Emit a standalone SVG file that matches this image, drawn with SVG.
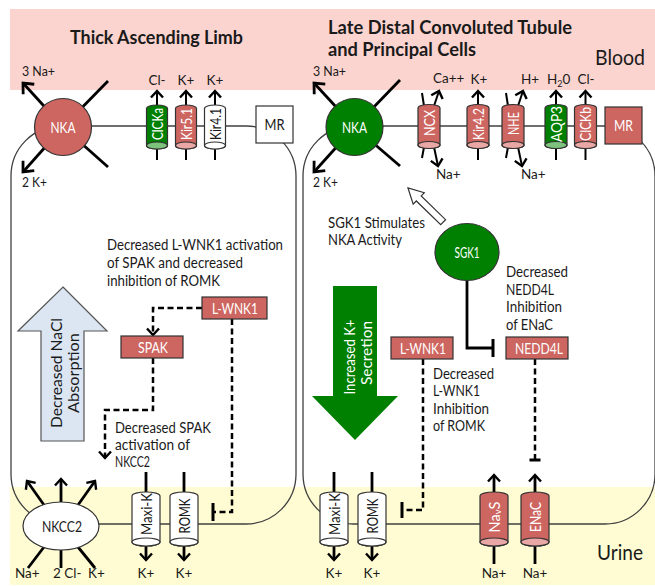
<svg xmlns="http://www.w3.org/2000/svg" width="655" height="586" viewBox="0 0 655 586">
<defs>
<style>
text{font-family:Lato,"Liberation Sans",sans-serif;font-size:14.5px;fill:#1a1a1a}
.t13{font-size:13.5px}
.ttl{font-size:19px;font-weight:bold}
.big{font-size:21px}
.wt{fill:#fff}
.c{text-anchor:middle}
.mid{text-anchor:middle;dominant-baseline:central}
.mem{fill:none;stroke:#404040;stroke-width:1.3}
.thk{fill:none;stroke:#000;stroke-width:2.8}
.thn{fill:none;stroke:#000;stroke-width:2}
.dash{fill:none;stroke:#000;stroke-width:2.5;stroke-dasharray:6 3.5}
.red{fill:#CD6560;stroke:#333;stroke-width:1.2}
.redl{fill:#E9A8A5;stroke:#333;stroke-width:1.2}
.grn{fill:#008000;stroke:#333;stroke-width:1.2}
.grnl{fill:#7DC27D;stroke:#333;stroke-width:1.2}
.wht{fill:#fff;stroke:#333;stroke-width:1.2}
</style>
<marker id="ah" viewBox="-10 -9 13 18" refX="0" refY="0" markerWidth="13" markerHeight="18" markerUnits="userSpaceOnUse" orient="auto" overflow="visible">
<path d="M-6.5,-6 L0,0 L-6.5,6" fill="none" stroke="#000" stroke-width="2.4"/>
</marker>
<marker id="ahL" viewBox="-12 -11 15 22" refX="0" refY="0" markerWidth="15" markerHeight="22" markerUnits="userSpaceOnUse" orient="auto" overflow="visible">
<path d="M-8.5,-7.5 L0,0 L-8.5,7.5" fill="none" stroke="#000" stroke-width="2.8"/>
</marker>
</defs>

<g id="bands">
<rect x="10" y="9" width="645" height="81" fill="#FCD4CF"/>
<rect x="10" y="487" width="645" height="98" fill="#FFFCD3"/>
</g>

<g id="cells">
<rect x="11" y="126" width="285" height="398" rx="50" ry="50" class="mem"/>
<rect x="303" y="126" width="352" height="398" rx="50" ry="50" class="mem"/>
</g>

<g id="labels">
<text x="70" y="44" class="ttl" textLength="173" lengthAdjust="spacingAndGlyphs">Thick Ascending Limb</text>
<text x="328" y="34" class="ttl" textLength="244" lengthAdjust="spacingAndGlyphs">Late Distal Convoluted Tubule</text>
<text x="328" y="56" class="ttl" textLength="148" lengthAdjust="spacingAndGlyphs">and Principal Cells</text>
<text x="595" y="65" class="big" textLength="50" lengthAdjust="spacingAndGlyphs">Blood</text>
<text x="597" y="560" class="big" textLength="46" lengthAdjust="spacingAndGlyphs">Urine</text>
</g>

<g id="connectors">
<line x1="63" y1="127" x2="23" y2="83" class="thk" marker-end="url(#ahL)"/>
<line x1="63" y1="127" x2="108" y2="81" class="thk"/>
<line x1="63" y1="127" x2="108" y2="167" class="thk"/>
<line x1="63" y1="127" x2="23" y2="172" class="thk" marker-end="url(#ahL)"/>
<line x1="354.5" y1="127" x2="314" y2="83" class="thk" marker-end="url(#ahL)"/>
<line x1="354.5" y1="127" x2="400" y2="80" class="thk"/>
<line x1="354.5" y1="127" x2="400" y2="166" class="thk"/>
<line x1="354.5" y1="127" x2="314" y2="172" class="thk" marker-end="url(#ahL)"/>
<line x1="157" y1="106" x2="157" y2="91" class="thn" marker-end="url(#ah)"/>
<line x1="186" y1="106" x2="186" y2="91" class="thn" marker-end="url(#ah)"/>
<line x1="215" y1="106" x2="215" y2="91" class="thn" marker-end="url(#ah)"/>
<line x1="157" y1="148" x2="157" y2="160" class="thn"/>
<line x1="186" y1="148" x2="186" y2="160" class="thn"/>
<line x1="215" y1="148" x2="215" y2="160" class="thn"/>
<line x1="422" y1="93" x2="424" y2="106" class="thn"/>
<line x1="434" y1="106" x2="439" y2="91" class="thn" marker-end="url(#ah)"/>
<line x1="424" y1="147" x2="422" y2="158" class="thn"/>
<line x1="434" y1="147" x2="438" y2="166" class="thn" marker-end="url(#ah)"/>
<line x1="506" y1="93" x2="508" y2="106" class="thn"/>
<line x1="518" y1="106" x2="523" y2="91" class="thn" marker-end="url(#ah)"/>
<line x1="508" y1="147" x2="506" y2="158" class="thn"/>
<line x1="518" y1="147" x2="522" y2="166" class="thn" marker-end="url(#ah)"/>
<line x1="478" y1="106" x2="478" y2="91" class="thn" marker-end="url(#ah)"/>
<line x1="478" y1="147" x2="478" y2="160" class="thn"/>
<line x1="556" y1="106" x2="556" y2="91" class="thn" marker-end="url(#ah)"/>
<line x1="556" y1="147" x2="556" y2="160" class="thn"/>
<line x1="585.5" y1="106" x2="585.5" y2="91" class="thn" marker-end="url(#ah)"/>
<line x1="585.5" y1="147" x2="585.5" y2="160" class="thn"/>
<line x1="44" y1="505" x2="27" y2="481" class="thk" marker-end="url(#ah)"/>
<line x1="61" y1="502" x2="61" y2="479" class="thk" marker-end="url(#ah)"/>
<line x1="78" y1="505" x2="95" y2="481" class="thk" marker-end="url(#ah)"/>
<line x1="44" y1="547" x2="28" y2="568" class="thk"/>
<line x1="61" y1="549" x2="61" y2="568" class="thk"/>
<line x1="78" y1="547" x2="95" y2="568" class="thk"/>
<line x1="146" y1="472" x2="146" y2="493" class="thk"/>
<line x1="184" y1="472" x2="184" y2="493" class="thk"/>
<line x1="146" y1="545" x2="146" y2="560" class="thk" marker-end="url(#ah)"/>
<line x1="184" y1="545" x2="184" y2="560" class="thk" marker-end="url(#ah)"/>
<line x1="334" y1="472" x2="334" y2="493" class="thk"/>
<line x1="372" y1="472" x2="372" y2="493" class="thk"/>
<line x1="334" y1="545" x2="334" y2="560" class="thk" marker-end="url(#ah)"/>
<line x1="372" y1="545" x2="372" y2="560" class="thk" marker-end="url(#ah)"/>
<line x1="494" y1="493" x2="494" y2="475" class="thk" marker-end="url(#ah)"/>
<line x1="535" y1="493" x2="535" y2="475" class="thk" marker-end="url(#ah)"/>
<line x1="494" y1="545" x2="494" y2="564" class="thk"/>
<line x1="535" y1="545" x2="535" y2="564" class="thk"/>
<path d="M202,308 H153 V335" class="dash" marker-end="url(#ah)"/>
<path d="M153,358 V410 H105 V458" class="dash" marker-end="url(#ah)"/>
<path d="M232,319 V512 H214" class="dash"/>
<line x1="213" y1="503" x2="213" y2="521" stroke="#000" stroke-width="3"/>
<path d="M467,280 V348 H492" class="thk"/>
<line x1="493" y1="339" x2="493" y2="357" stroke="#000" stroke-width="3"/>
<path d="M423,359 V510 H403" class="dash"/>
<line x1="402" y1="502" x2="402" y2="518" stroke="#000" stroke-width="3"/>
<path d="M535,359 V459" class="dash"/>
<line x1="529.5" y1="460" x2="540.5" y2="460" stroke="#000" stroke-width="3"/>
<polygon points="0,0 -15,-8 -15,-3.5 -49,-3.5 -49,3.5 -15,3.5 -15,8" transform="translate(408,188) rotate(-135.8)" fill="#fff" stroke="#333" stroke-width="1.2"/>
</g>

<g id="ion-labels">
<text x="22" y="76" class="t13" textLength="33" lengthAdjust="spacingAndGlyphs">3 Na+</text>
<text x="22" y="187" class="t13" textLength="25" lengthAdjust="spacingAndGlyphs">2 K+</text>
<text x="313" y="76" class="t13" textLength="33" lengthAdjust="spacingAndGlyphs">3 Na+</text>
<text x="313" y="187" class="t13" textLength="25" lengthAdjust="spacingAndGlyphs">2 K+</text>
<text x="157" y="85" class="t13 c">Cl-</text>
<text x="186" y="85" class="t13 c">K+</text>
<text x="215" y="85" class="t13 c">K+</text>
<text x="433" y="83" class="t13">Ca++</text>
<text x="479" y="84" class="t13 c">K+</text>
<text x="521" y="84" class="t13">H+</text>
<text x="547" y="84" class="t13">H<tspan font-size="9" dy="3">2</tspan><tspan dy="-3">0</tspan></text>
<text x="586" y="84" class="t13 c">Cl-</text>
<text x="436" y="179" class="t13">Na+</text>
<text x="521" y="179" class="t13">Na+</text>
<text x="15" y="578" class="t13">Na+</text>
<text x="53" y="578" class="t13">2 Cl-</text>
<text x="88" y="578" class="t13">K+</text>
<text x="146" y="578" class="t13 c">K+</text>
<text x="184" y="578" class="t13 c">K+</text>
<text x="334" y="578" class="t13 c">K+</text>
<text x="372" y="578" class="t13 c">K+</text>
<text x="494" y="578" class="t13 c">Na+</text>
<text x="535" y="578" class="t13 c">Na+</text>
</g>

<g id="notes">
<text x="107" y="250" textLength="176" lengthAdjust="spacingAndGlyphs">Decreased L-WNK1 activation</text>
<text x="107" y="268" textLength="136" lengthAdjust="spacingAndGlyphs">of SPAK and decreased</text>
<text x="107" y="285.5" textLength="113" lengthAdjust="spacingAndGlyphs">inhibition of ROMK</text>
<text x="115" y="433" textLength="96" lengthAdjust="spacingAndGlyphs">Decreased SPAK</text>
<text x="115" y="450" textLength="75" lengthAdjust="spacingAndGlyphs">activation of</text>
<text x="115" y="467" textLength="35" lengthAdjust="spacingAndGlyphs">NKCC2</text>
<text x="328" y="228" textLength="97" lengthAdjust="spacingAndGlyphs">SGK1 Stimulates</text>
<text x="328" y="245" textLength="74" lengthAdjust="spacingAndGlyphs">NKA Activity</text>
<text x="506" y="277" textLength="62" lengthAdjust="spacingAndGlyphs">Decreased</text>
<text x="506" y="294.5" textLength="48" lengthAdjust="spacingAndGlyphs">NEDD4L</text>
<text x="506" y="312" textLength="56" lengthAdjust="spacingAndGlyphs">Inhibition</text>
<text x="506" y="329.5" textLength="47" lengthAdjust="spacingAndGlyphs">of ENaC</text>
<text x="433" y="379" textLength="61" lengthAdjust="spacingAndGlyphs">Decreased</text>
<text x="433" y="396" textLength="47" lengthAdjust="spacingAndGlyphs">L-WNK1</text>
<text x="433" y="413.5" textLength="56" lengthAdjust="spacingAndGlyphs">Inhibition</text>
<text x="433" y="431" textLength="52" lengthAdjust="spacingAndGlyphs">of ROMK</text>
</g>

<g id="nacl-arrow">
<polygon points="63,287 107,331 84,331 84,441 41,441 41,331 18,331" fill="#DCE6F2" stroke="#555" stroke-width="1.2"/>
<text transform="translate(62,373) rotate(-90)" class="c" font-size="16.5" textLength="110" lengthAdjust="spacingAndGlyphs">Decreased NaCl</text>
<text transform="translate(79,373) rotate(-90)" class="c" font-size="16.5" textLength="80" lengthAdjust="spacingAndGlyphs">Absorption</text>
</g>

<g id="k-arrow">
<polygon points="333,286 377,286 377,396 398,396 355,440 312,396 333,396" fill="#008000"/>
<text transform="translate(355,357) rotate(-90)" class="c wt" font-size="16.5" textLength="75" lengthAdjust="spacingAndGlyphs">Increased K+</text>
<text transform="translate(372,353) rotate(-90)" class="c wt" font-size="16.5" textLength="64" lengthAdjust="spacingAndGlyphs">Secretion</text>
</g>

<g id="NKA-left">
<circle cx="63" cy="127" r="28.5" class="red"/>
<text x="63" y="127" class="mid wt" font-size="15" textLength="25" lengthAdjust="spacingAndGlyphs">NKA</text>
</g>
<g id="NKA-right">
<circle cx="354.5" cy="127" r="28.5" class="grn"/>
<text x="354.5" y="127" class="mid wt" font-size="15" textLength="25" lengthAdjust="spacingAndGlyphs">NKA</text>
</g>

<g id="ClCKa">
<path d="M146.5,108.5 A10.5,3.5 0 0 1 167.5,108.5 V145.5 A10.5,3.5 0 0 1 146.5,145.5 Z" class="grn"/>
<ellipse cx="157" cy="145.5" rx="10.5" ry="3.5" class="grnl"/>
<text transform="translate(157,124) rotate(-90)" class="mid wt" textLength="32" lengthAdjust="spacingAndGlyphs">ClCKa</text>
</g>
<g id="Kir5.1">
<path d="M175.5,108.5 A10.5,3.5 0 0 1 196.5,108.5 V145.5 A10.5,3.5 0 0 1 175.5,145.5 Z" class="red"/>
<ellipse cx="186" cy="145.5" rx="10.5" ry="3.5" class="redl"/>
<text transform="translate(186,124) rotate(-90)" class="mid wt" textLength="32" lengthAdjust="spacingAndGlyphs">Kir5.1</text>
</g>
<g id="Kir4.1">
<path d="M204.5,108.5 A10.5,3.5 0 0 1 225.5,108.5 V145.5 A10.5,3.5 0 0 1 204.5,145.5 Z" class="wht"/>
<ellipse cx="215" cy="145.5" rx="10.5" ry="3.5" class="wht"/>
<text transform="translate(215,124) rotate(-90)" class="mid" textLength="32" lengthAdjust="spacingAndGlyphs">Kir4.1</text>
</g>
<g id="MR-left">
<rect x="256" y="106" width="37" height="37" class="wht"/>
<text x="274.5" y="124.5" class="mid" font-size="15" textLength="20" lengthAdjust="spacingAndGlyphs">MR</text>
</g>

<g id="NCX">
<path d="M418,108 A11,3.5 0 0 1 440,108 V145 A11,3.5 0 0 1 418,145 Z" class="red"/>
<ellipse cx="429" cy="145" rx="11" ry="3.5" class="redl"/>
<text transform="translate(429,123) rotate(-90)" class="mid wt" textLength="26" lengthAdjust="spacingAndGlyphs">NCX</text>
</g>
<g id="Kir4.2">
<path d="M467,108 A11,3.5 0 0 1 489,108 V145 A11,3.5 0 0 1 467,145 Z" class="red"/>
<ellipse cx="478" cy="145" rx="11" ry="3.5" class="redl"/>
<text transform="translate(478,124) rotate(-90)" class="mid wt" textLength="32" lengthAdjust="spacingAndGlyphs">Kir4.2</text>
</g>
<g id="NHE">
<path d="M502,108 A11,3.5 0 0 1 524,108 V145 A11,3.5 0 0 1 502,145 Z" class="red"/>
<ellipse cx="513" cy="145" rx="11" ry="3.5" class="redl"/>
<text transform="translate(513,123.5) rotate(-90)" class="mid wt" textLength="23" lengthAdjust="spacingAndGlyphs">NHE</text>
</g>
<g id="AQP3">
<path d="M545,108 A11,3.5 0 0 1 567,108 V145 A11,3.5 0 0 1 545,145 Z" class="grn"/>
<ellipse cx="556" cy="145" rx="11" ry="3.5" class="grnl"/>
<text transform="translate(556,124) rotate(-90)" class="mid wt" textLength="36" lengthAdjust="spacingAndGlyphs">AQP3</text>
</g>
<g id="ClCKb">
<path d="M574.5,108 A11,3.5 0 0 1 596.5,108 V145 A11,3.5 0 0 1 574.5,145 Z" class="red"/>
<ellipse cx="585.5" cy="145" rx="11" ry="3.5" class="redl"/>
<text transform="translate(585.5,124) rotate(-90)" class="mid wt" textLength="34" lengthAdjust="spacingAndGlyphs">ClCKb</text>
</g>
<g id="MR-right">
<rect x="605" y="107" width="37" height="37" class="red"/>
<text x="623.5" y="125.5" class="mid wt" font-size="15" textLength="19" lengthAdjust="spacingAndGlyphs">MR</text>
</g>

<g id="SGK1">
<ellipse cx="467" cy="252" rx="32" ry="28.5" class="grn"/>
<text x="467" y="252" class="mid wt" font-size="12.5" textLength="25" lengthAdjust="spacingAndGlyphs">SGK1</text>
</g>
<g id="L-WNK1-left">
<rect x="202" y="297" width="65" height="22" class="red"/>
<text x="235" y="308" class="mid wt" textLength="46" lengthAdjust="spacingAndGlyphs">L-WNK1</text>
</g>
<g id="SPAK">
<rect x="121" y="336" width="62" height="22" class="red"/>
<text x="153" y="347" class="mid wt" textLength="30" lengthAdjust="spacingAndGlyphs">SPAK</text>
</g>
<g id="L-WNK1-right">
<rect x="391" y="337" width="62" height="22" class="red"/>
<text x="423" y="348" class="mid wt" textLength="46" lengthAdjust="spacingAndGlyphs">L-WNK1</text>
</g>
<g id="NEDD4L">
<rect x="506" y="337" width="62" height="22" class="red"/>
<text x="539" y="348" class="mid wt" textLength="48" lengthAdjust="spacingAndGlyphs">NEDD4L</text>
</g>

<g id="NKCC2">
<ellipse cx="61" cy="526" rx="38" ry="24" class="wht"/>
<text x="62" y="526" class="mid" textLength="40" lengthAdjust="spacingAndGlyphs">NKCC2</text>
</g>
<g id="Maxi-K-left">
<path d="M132,496 A14,4 0 0 1 160,496 V542 A14,4 0 0 1 132,542 Z" class="wht"/>
<ellipse cx="146" cy="542" rx="14" ry="4" class="wht"/>
<text transform="translate(146,514) rotate(-90)" class="mid" textLength="42" lengthAdjust="spacingAndGlyphs">Maxi-K</text>
</g>
<g id="ROMK-left">
<path d="M170,496 A14,4 0 0 1 198,496 V542 A14,4 0 0 1 170,542 Z" class="wht"/>
<ellipse cx="184" cy="542" rx="14" ry="4" class="wht"/>
<text transform="translate(184,516) rotate(-90)" class="mid" textLength="35" lengthAdjust="spacingAndGlyphs">ROMK</text>
</g>
<g id="Maxi-K-right">
<path d="M320,496 A14,4 0 0 1 348,496 V542 A14,4 0 0 1 320,542 Z" class="wht"/>
<ellipse cx="334" cy="542" rx="14" ry="4" class="wht"/>
<text transform="translate(334,514) rotate(-90)" class="mid" textLength="42" lengthAdjust="spacingAndGlyphs">Maxi-K</text>
</g>
<g id="ROMK-right">
<path d="M358,496 A14,4 0 0 1 386,496 V542 A14,4 0 0 1 358,542 Z" class="wht"/>
<ellipse cx="372" cy="542" rx="14" ry="4" class="wht"/>
<text transform="translate(372,516) rotate(-90)" class="mid" textLength="35" lengthAdjust="spacingAndGlyphs">ROMK</text>
</g>
<g id="NavS">
<path d="M480,496 A14,4 0 0 1 508,496 V542 A14,4 0 0 1 480,542 Z" class="red"/>
<ellipse cx="494" cy="542" rx="14" ry="4" class="redl"/>
<text transform="translate(494,517) rotate(-90)" class="mid wt">Na<tspan font-size="9.5" dy="3">v</tspan><tspan dy="-3">S</tspan></text>
</g>
<g id="ENaC">
<path d="M521,496 A14,4 0 0 1 549,496 V542 A14,4 0 0 1 521,542 Z" class="red"/>
<ellipse cx="535" cy="542" rx="14" ry="4" class="redl"/>
<text transform="translate(535,517) rotate(-90)" class="mid wt" textLength="30" lengthAdjust="spacingAndGlyphs">ENaC</text>
</g>
</svg>
